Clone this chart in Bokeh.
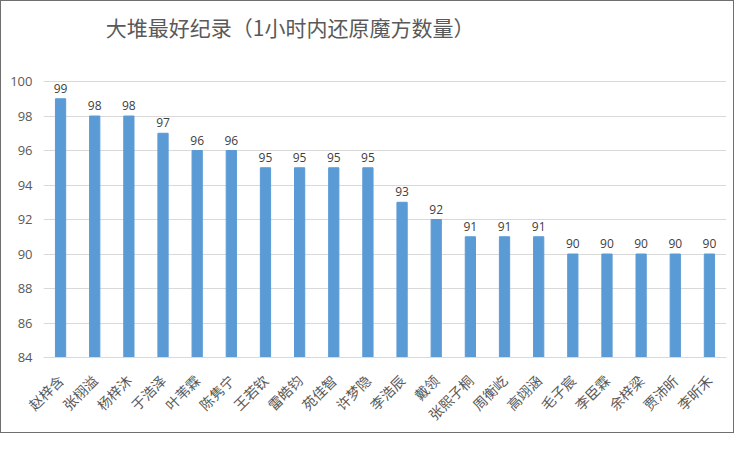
import numpy as np
from bokeh.plotting import figure, ColumnDataSource
from bokeh.models import FixedTicker, LabelSet, Label
from bokeh.core.properties import value
from bokeh.embed import file_html
from bokeh.resources import INLINE

# données
names = ["赵梓含", "张栩溢", "杨梓沐", "于浩泽", "叶苇霖", "陈隽宁", "王若钦", "雷皓钧", "苑佳智", "许梦隐",
         "李浩辰", "戴领", "张熙子桐", "周衡屹", "高翊涵", "毛子宸", "李臣霖", "余梓梁", "贾沛昕", "李昕禾"]
scores = [99, 98, 98, 97, 96, 96, 95, 95, 95, 95, 93, 92, 91, 91, 91, 90, 90, 90, 90, 90]
y_ticks = [84, 86, 88, 90, 92, 94, 96, 98, 100]
title_text = "大堆最好纪录（1小时内还原魔方数量）"

source = ColumnDataSource(dict(name=names, score=scores, label=[str(s) for s in scores]))

# l'axe y monte au-delà de 100 pour loger le titre dans le cadre (sans ligne d'axe, ça ne se voit pas)
p = figure(x_range=names, y_range=(84, 104.06), width=734, height=433,
           output_backend="svg", toolbar_location=None,
           min_border_left=42, min_border_right=9, min_border_top=10, min_border_bottom=72)
p.styles = {"border": "1px solid #6f6f6f", "box-sizing": "border-box"}

p.vbar(x='name', top='score', bottom=84, source=source, width=0.3,
       fill_color="#5B9BD5", line_color="#5B9BD5")

labels = LabelSet(x='name', y='score', text='label', source=source, y_offset=6,
                  text_align='center', text_font_size='12px', text_color='#404040',
                  text_font=value("Open Sans"))
p.add_layout(labels)

# titre
p.add_layout(Label(x=7.22, y=103.14, text=title_text, text_align='center', text_baseline='middle',
                   text_font_size='21px', text_font="Noto Sans CJK SC", text_color='#595959'))

p.yaxis.ticker = FixedTicker(ticks=y_ticks)
p.yaxis.axis_line_color = None
p.yaxis.major_tick_line_color = None
p.yaxis.minor_tick_line_color = None
p.yaxis.major_label_text_font_size = '13px'
p.yaxis.major_label_text_color = '#595959'
p.yaxis.major_label_text_font = "Open Sans"

p.xaxis.axis_line_color = '#D9D9D9'
p.xaxis.major_tick_line_color = None
p.xaxis.major_label_orientation = np.pi / 4
p.xaxis.major_label_standoff = 14
p.xaxis.major_label_text_font_size = '14px'
p.xaxis.major_label_text_color = '#595959'
p.xaxis.major_label_text_font = "Noto Sans CJK SC"

p.xgrid.grid_line_color = None
p.ygrid.grid_line_color = '#D9D9D9'
p.ygrid.ticker = FixedTicker(ticks=y_ticks)
p.outline_line_color = None

open("out.html", "w").write(file_html(p, INLINE))
